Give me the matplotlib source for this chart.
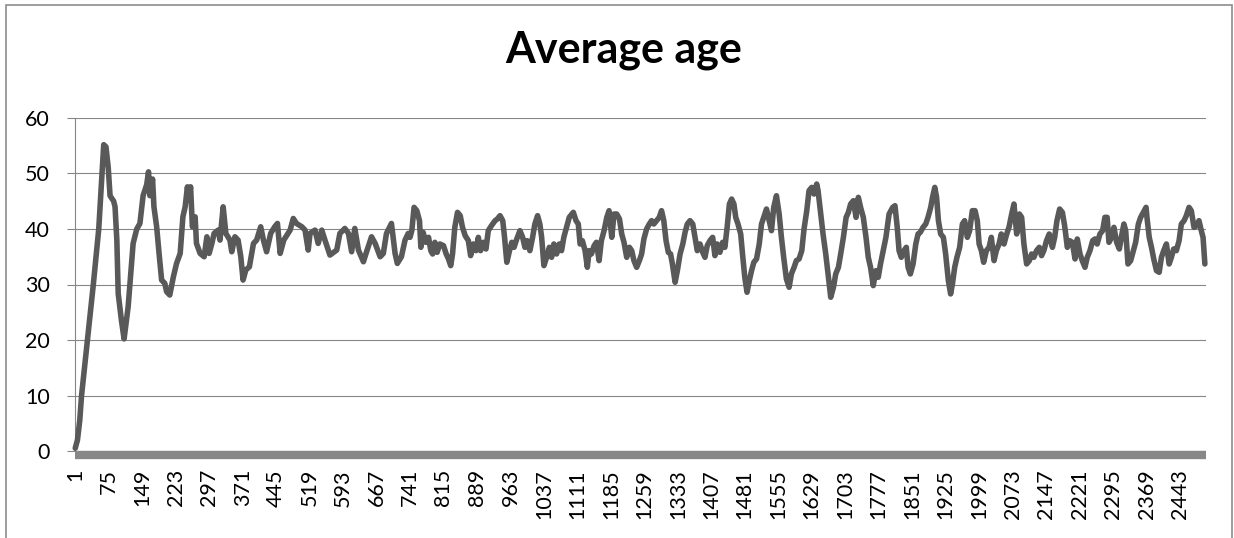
import matplotlib
matplotlib.use("Agg")
import matplotlib.pyplot as plt
from matplotlib.patches import Rectangle

# category index (run step) and average age
run = [1, 6, 11, 15, 28, 41, 53, 64, 69, 74, 78, 86, 89, 93, 96, 103, 109, 118, 129,
       137, 144, 151, 159, 163, 166, 172, 175, 181, 187, 192, 199, 203, 210, 218,
       225, 233, 239, 244, 249, 252, 256, 260, 266, 269, 277, 286, 292, 297, 303,
       308, 317, 321, 328, 334, 343, 347, 354, 361, 367, 372, 378, 386, 395, 402,
       411, 417, 424, 433, 442, 448, 454, 462, 476, 483, 490, 502, 509, 516, 520,
       531, 538, 546, 553, 564, 579, 586, 597, 605, 612, 619, 627, 638, 645, 656,
       664, 675, 682, 689, 700, 708, 713, 722, 730, 737,
       741, 745, 750, 756, 762, 765, 770, 776, 782, 787, 791, 796, 801, 807, 815,
       821, 826, 831, 835, 840, 846, 852, 857, 863, 870, 875, 881, 887, 892, 897,
       903, 909, 914, 921, 929, 934, 940, 946, 950, 955, 961, 966, 971, 977, 984,
       990, 995, 1000, 1006, 1012, 1017, 1023, 1028, 1032, 1037, 1043, 1049, 1054,
       1059, 1065, 1071, 1076, 1081, 1087, 1093,
       1102, 1108, 1113, 1117, 1122, 1128, 1133, 1137, 1142, 1148, 1153, 1159,
       1164, 1170, 1176, 1181, 1187, 1192, 1198, 1204, 1209, 1214, 1220, 1226,
       1231, 1236, 1242, 1248, 1253, 1258, 1264, 1270, 1275, 1280, 1286, 1292,
       1297, 1302, 1307, 1312, 1317, 1321, 1327, 1332, 1338, 1344, 1349, 1354,
       1360, 1366, 1371, 1376, 1382, 1388, 1393, 1398, 1404, 1410, 1415, 1420,
       1426, 1432, 1437, 1442, 1447,
       1452, 1457, 1461, 1466, 1472, 1476, 1481, 1486, 1491, 1496, 1501, 1507,
       1513, 1518, 1523, 1529, 1535, 1540, 1545, 1551, 1557, 1562, 1567, 1573,
       1579, 1584, 1590, 1595, 1601, 1607, 1612, 1618, 1623, 1629, 1634, 1640,
       1643, 1649, 1654, 1660, 1665, 1671, 1677, 1682, 1688, 1693, 1699, 1705,
       1710, 1715, 1721, 1727, 1732, 1737, 1743, 1749, 1754, 1759, 1765, 1771,
       1776, 1781, 1787, 1793, 1800,
       1808, 1813, 1818, 1822, 1827, 1833, 1838, 1842, 1847, 1853, 1859, 1864,
       1869, 1875, 1881, 1886, 1892, 1896, 1901, 1905, 1909, 1914, 1920, 1925,
       1931, 1936, 1940, 1945, 1950, 1956, 1962, 1967, 1973, 1978, 1984, 1990,
       1995, 1999, 2004, 2009, 2015, 2021, 2026, 2032, 2037, 2043, 2048, 2054,
       2060, 2065, 2071, 2076, 2082, 2088, 2093, 2098, 2104, 2110, 2115, 2120,
       2126, 2132, 2137, 2142, 2148, 2154,
       2161, 2166, 2171, 2177, 2183, 2188, 2194, 2199, 2205, 2211, 2216, 2222,
       2227, 2233, 2238, 2244, 2250, 2255, 2260, 2266, 2272, 2277, 2282, 2286,
       2292, 2297, 2303, 2309, 2314, 2319, 2323, 2328, 2334, 2340, 2345, 2351,
       2356, 2362, 2368, 2370, 2375, 2380, 2385, 2391, 2397, 2402, 2407, 2413,
       2419, 2424, 2429, 2435, 2441, 2446, 2452, 2457, 2463, 2468, 2474, 2480,
       2485, 2491, 2494, 2498]

avg_age = [0.5, 2, 5.5, 10, 20, 30, 40, 55.2, 54.8, 51, 46, 45, 44, 38, 28.4, 23.6, 20.2,
           26, 37.4, 40, 41, 46, 48, 50.3, 46, 49, 44, 40.4, 35, 30.8, 30.2, 28.7,
           28.1, 31.4, 33.8, 35.6, 42.2, 44, 47.6, 45.2, 47.6, 40.4, 42.2, 37.4,
           35.6, 35, 38.6, 35.6, 37.4, 39.2, 39.8, 38, 44, 39.2, 38, 35.9, 38.6, 38,
           35, 30.8, 32.6, 33.2, 37.4, 38, 40.4, 38, 35.9, 39.2, 40.4, 41, 35.6, 38,
           39.8, 41.9, 41, 40.4, 39.8, 36.2, 39.2, 39.8, 37.4, 39.8, 38, 35.3, 36.2,
           39.2, 40.1, 39.2, 35.9, 40.1, 36.2, 34.1, 35.9, 38.6, 37.4, 35, 35.6,
           39.2, 41, 35.6, 33.8, 35, 38, 39.2,
           38.5, 39.7, 43.9, 43.3, 41.5, 36.7, 39.4, 37.6, 38.5, 36.1, 35.5, 37.6,
           35.8, 37.3, 37.0, 35.5, 34.6, 33.4, 35.5, 40.3, 43.0, 42.4, 40.3, 38.8,
           37.9, 35.2, 37.3, 36.1, 38.5, 36.1, 37.6, 36.4, 39.7, 40.6, 41.5, 41.8,
           42.4, 41.5, 38.5, 34.0, 36.1, 37.6, 36.7, 38.2, 39.7, 38.5, 36.7, 37.9,
           36.1, 38.5, 40.9, 42.4, 40.9, 38.5, 33.4, 34.9, 36.7, 34.9, 37.3, 35.5,
           37.3, 36.1, 38.5, 40.3, 42.1,
           43.0, 41.5, 40.9, 37.3, 37.9, 36.1, 33.1, 36.1, 35.5, 37.0, 37.6, 34.3,
           37.9, 39.7, 42.1, 43.3, 38.5, 42.7, 42.7, 41.8, 39.1, 37.6, 34.9, 36.7,
           36.1, 34.3, 33.1, 34.3, 35.5, 38.2, 40.0, 40.9, 41.5, 40.9, 41.5, 42.1,
           43.3, 41.5, 37.9, 35.8, 35.5, 33.7, 30.4, 32.5, 35.5, 37.3, 39.4, 40.9,
           41.5, 40.9, 38.5, 36.1, 37.3, 35.8, 34.9, 37.0, 37.9, 38.5, 35.2, 37.3,
           35.8, 37.6, 36.7, 40.3, 44.5,
           45.4, 44.5, 42.1, 40.9, 39.1, 35.5, 31.3, 28.6, 30.7, 32.5, 34.0, 34.6,
           37.3, 40.9, 42.1, 43.6, 41.5, 39.7, 43.9, 46.0, 42.7, 38.5, 34.9, 31.0,
           29.5, 31.9, 33.1, 34.3, 34.6, 36.1, 40.0, 43.3, 46.9, 47.5, 46.3, 48.1,
           46.9, 42.7, 39.1, 35.5, 31.9, 27.7, 29.5, 31.9, 33.1, 35.5, 38.5, 42.1,
           43.0, 44.5, 45.1, 42.1, 45.7, 43.9, 42.1, 38.5, 34.9, 33.1, 29.8, 32.5,
           31.3, 33.7, 36.1, 38.5, 42.7,
           43.9, 44.2, 40.3, 36.1, 34.9, 36.1, 36.7, 33.1, 31.9, 33.7, 37.3, 39.1,
           39.4, 40.3, 40.9, 42.1, 43.9, 45.7, 47.5, 45.7, 41.5, 39.1, 38.5, 35.5,
           30.7, 28.3, 30.1, 33.1, 34.9, 36.7, 40.9, 41.5, 38.5, 39.7, 43.3, 43.3,
           41.5, 37.3, 36.1, 34.0, 36.1, 36.7, 38.5, 34.3, 36.1, 37.3, 39.1, 37.3,
           39.1, 40.3, 42.7, 44.5, 39.1, 42.7, 42.1, 37.3, 33.7, 34.3, 35.5, 34.9,
           36.1, 36.7, 35.2, 36.1, 37.9, 39.1,
           36.7, 38.5, 41.5, 43.6, 43.0, 40.6, 36.7, 37.9, 37.6, 34.6, 38.2, 35.5,
           34.3, 33.1, 34.9, 36.1, 37.9, 38.2, 37.3, 39.1, 39.7, 42.1, 42.1, 37.6,
           38.5, 40.3, 37.6, 36.4, 38.8, 40.9, 39.7, 33.7, 34.3, 36.1, 37.6, 40.9,
           42.1, 43.0, 43.9, 42.1, 38.5, 36.7, 34.6, 32.5, 32.2, 34.9, 36.1, 37.3,
           33.7, 34.9, 36.4, 36.1, 37.9, 40.9, 41.5, 42.4, 43.9, 43.3, 40.3, 40.6,
           41.5, 39.4, 38.5, 33.7]

n_runs = 2500
tick_runs = list(range(1, n_runs, 74))

plt.rcParams['font.family'] = ['Lato', 'DejaVu Sans']

fig = plt.figure(figsize=(12.34, 5.38), dpi=100)
ax = fig.add_axes([75 / 1234, 1 - 451 / 538, (1206 - 75) / 1234, (451 - 118) / 538])

ax.plot(run, avg_age, color='#595959', lw=4, solid_joinstyle='round',
        solid_capstyle='round', zorder=3, clip_on=False)

for s in ['top', 'right']:
    ax.spines[s].set_visible(False)
ax.spines['left'].set_color('#868686')
ax.spines['left'].set_linewidth(0.8)
ax.spines['bottom'].set_color('#878787')
ax.spines['bottom'].set_linewidth(6)
ax.spines['bottom'].set_position(('outward', 3))
ax.spines['bottom'].set_capstyle('butt')

ax.set_xlim(0.5, n_runs + 0.5)
ax.set_ylim(0, 60)
ax.set_yticks(range(0, 61, 10))
ax.set_xticks(tick_runs)
ax.set_xticklabels([str(t) for t in tick_runs])
ax.tick_params(axis='y', labelsize=15.5, length=6, width=0.8, color='#868686', pad=12)
ax.tick_params(axis='x', labelsize=15.5, labelrotation=90, length=0, pad=10)

ax.grid(axis='y', color='#868686', lw=0.8)
ax.set_axisbelow(True)

fig.text(624 / 1234, 1 - 63 / 538, 'Average age', ha='center', va='baseline',
         fontsize=31, fontweight='bold')

# chart area frame
fig.patches.append(Rectangle((5.5 / 1234, -0.1), (1232 - 5.5) / 1234, 1.1 - 5 / 538,
                             transform=fig.transFigure, fill=False,
                             edgecolor='#8c8c8c', lw=1.2))

fig.savefig('out.png', dpi=100)
